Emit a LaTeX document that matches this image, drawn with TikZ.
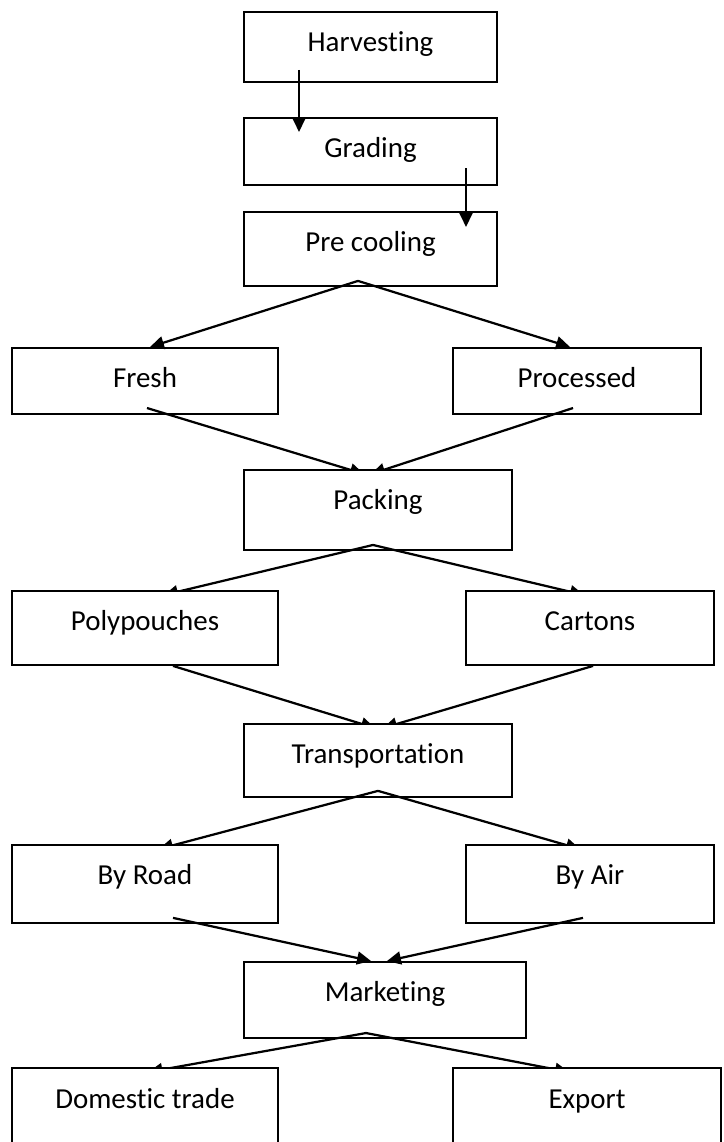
\documentclass[tikz,border=0pt]{standalone}
\usepackage{fontspec}
\setmainfont{Carlito}[Ligatures=NoCommon]
\usepackage{xcolor}
\usepackage{tikz}
\usetikzlibrary{arrows.meta,calc}

\begin{document}
\begin{tikzpicture}[x=0.38pt, y=-0.38pt,
  stage/.style 2 args={rectangle, draw=black, fill=white, line width=0.75pt, anchor=north, minimum width=#1, inner xsep=0pt, inner ysep=0pt, text height=15.2pt, text depth=#2, text centered, font=\fontsize{11pt}{13pt}\selectfont},
  flow/.style={line width=0.85pt, -{Triangle[length=5.3pt,width=4.9pt]}}]

\useasboundingbox (0,0) rectangle (723,1142);
\clip (0,0) rectangle (723,1142);

\node (harv) [stage={96.1pt}{11.4pt}] at (370.5,11) {Harvesting};

\node (grad) [stage={96.1pt}{10.3pt}] at (370.5,117) {Grading};

\node (prec) [stage={96.1pt}{12.9pt}] at (370.5,211) {Pre cooling};

\draw[flow] ($(harv.south)+(-71.5,-13)$) -- ($(grad.north)+(-71.5,15)$);
\draw[flow] ($(grad.south)+(95.5,-18)$) -- ($(prec.north)+(95.5,16)$);

\node (fresh) [stage={101.1pt}{9.9pt}] at (145,347) {Fresh};

\node (proc) [stage={94.2pt}{9.9pt}] at (577,347) {Processed};

\draw[flow] ($(prec.south)+(-12.5,-6)$) -- ($(fresh.north)+(5,0)$);
\draw[flow] ($(prec.south)+(-12.5,-6)$) -- ($(proc.north)+(-7,0)$);

\draw[flow] ($(fresh.south)+(2,-7)$) -- ($(378,469)+(-14,5)$);
\draw[flow] ($(proc.south)+(-4,-7)$) -- ($(378,469)+(-7,5)$);

\node (pack) [stage={101.8pt}{15.2pt}] at (378,469) {Packing};

\draw[flow] ($(pack.south)+(-5,-6)$) -- ($(145,590)+(19,5)$);
\draw[flow] ($(pack.south)+(-5,-6)$) -- ($(590,590)+(-6,5)$);

\node (poly) [stage={101.1pt}{12.9pt}] at (145,590) {Polypouches};

\node (cart) [stage={94.2pt}{12.9pt}] at (590,590) {Cartons};

\draw[flow] ($(poly.south)+(28,0)$) -- ($(378,723)+(-3,5)$);
\draw[flow] ($(cart.south)+(3,0)$) -- ($(378,723)+(5,5)$);

\node (trans) [stage={101.8pt}{12.5pt}] at (378,723) {Transportation};

\draw[flow] ($(trans.south)+(0,-7)$) -- ($(145,844)+(14,5)$);
\draw[flow] ($(trans.south)+(0,-7)$) -- ($(590,844)+(-10,5)$);

\node (road) [stage={101.1pt}{14.4pt}] at (145,844) {By Road};

\node (air) [stage={94.2pt}{14.4pt}] at (590,844) {By Air};

\node (mark) [stage={107.2pt}{13.7pt}] at (385,961) {Marketing};

\draw[flow] ($(road.south)+(28,-6)$) -- ($(mark.north)+(-14,0)$);
\draw[flow] ($(air.south)+(-7,-6)$) -- ($(mark.north)+(2,0)$);

\draw[flow] ($(mark.south)+(-19,-6)$) -- ($(145,1067)+(3.5,5)$);
\draw[flow] ($(mark.south)+(-19,-6)$) -- ($(587,1067)+(-18,5)$);

\node (dom) [stage={101.1pt}{22.8pt}] at (145,1067) {Domestic trade};

\node (exp) [stage={101.8pt}{22.8pt}] at (587,1067) {Export};

\end{tikzpicture}
\end{document}
